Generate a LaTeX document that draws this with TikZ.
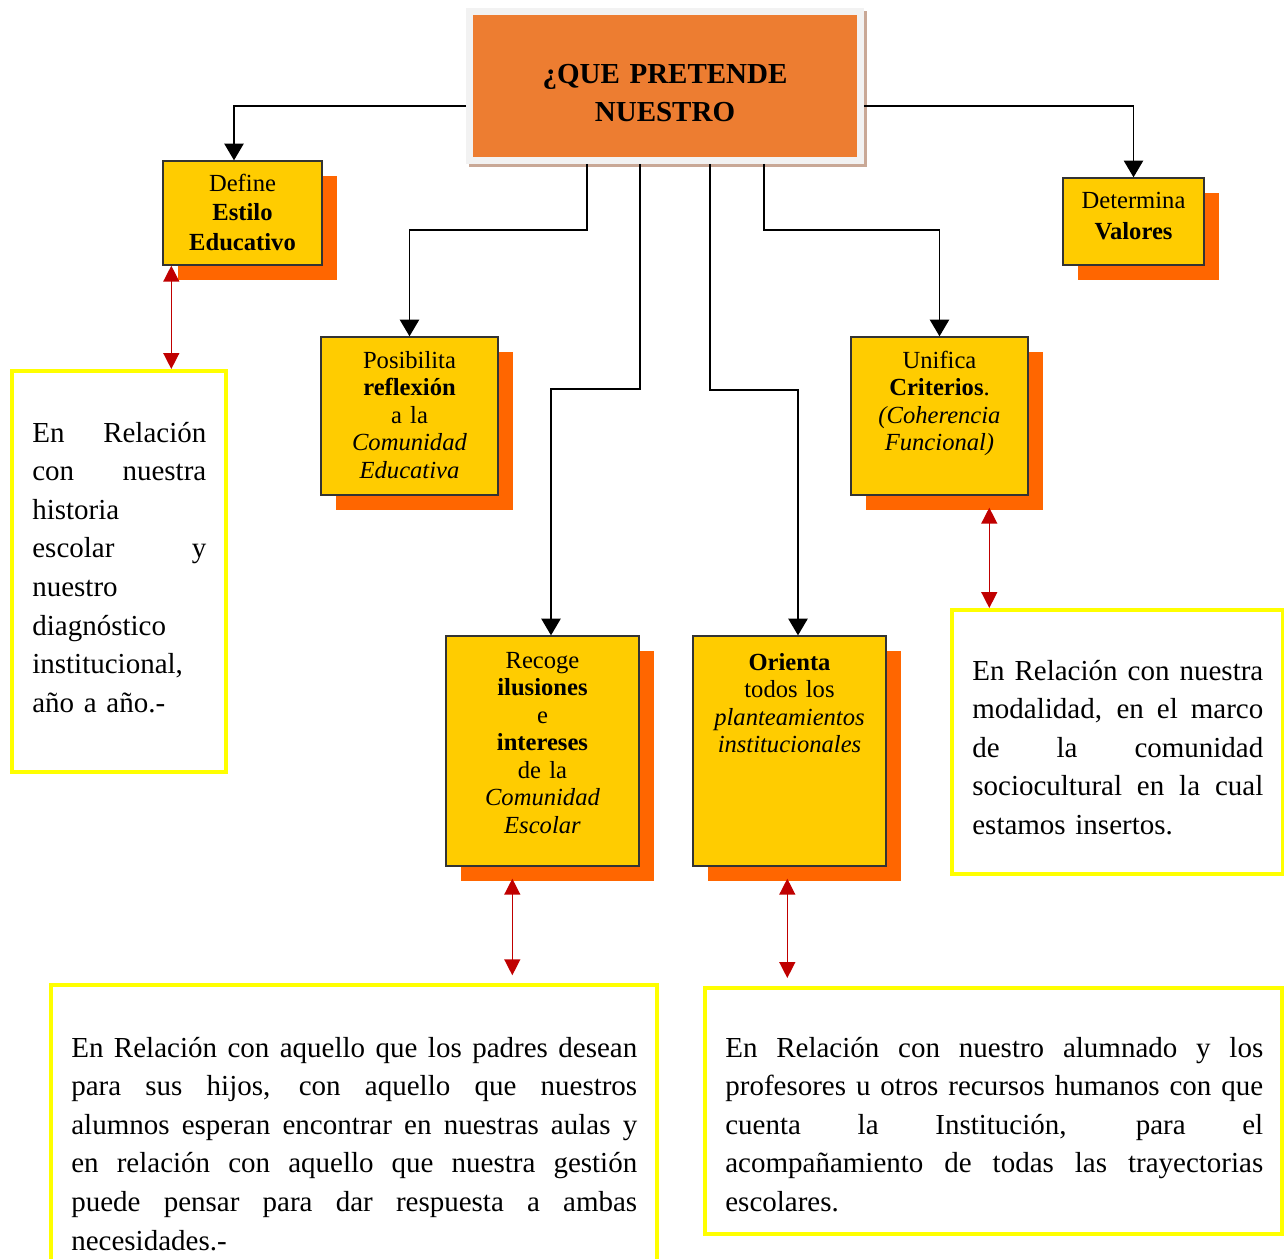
\documentclass[tikz,border=0pt]{standalone}
\usepackage{fontspec}
\setmainfont{Liberation Serif}
\usetikzlibrary{arrows.meta,shadows}
\definecolor{naranja}{RGB}{237,125,49}
\definecolor{marco}{RGB}{242,242,242}
\definecolor{marcosombra}{RGB}{201,168,150}
\definecolor{amarillo}{RGB}{255,204,0}
\definecolor{sombra}{RGB}{255,102,0}
\definecolor{bordenota}{RGB}{255,255,0}
\definecolor{rojo}{RGB}{192,0,0}
\newlength{\anchonota}
% linea justificada
\newcommand{\linea}[1]{\leavevmode\hbox to \anchonota{\spaceskip=0.25em plus 1fil\relax #1}}
\tikzset{
  titulo/.style={rectangle,fill=naranja,draw=marco,line width=0.14cm,
    drop shadow={shadow xshift=0.06cm,shadow yshift=-0.06cm,fill=marcosombra,
      draw=marcosombra,line width=0.14cm,opacity=1}},
  caja/.style={rectangle,draw=black!80,line width=0.8pt,fill=amarillo,
    drop shadow={shadow xshift=0.3cm,shadow yshift=-0.3cm,fill=sombra,opacity=1}},
  txt/.style={inner sep=0pt,align=center,anchor=base,font=\fontsize{14}{15.7}\selectfont},
  nota/.style={rectangle,draw=bordenota,line width=2pt,fill=white},
  ntxt/.style={inner sep=0pt,align=left,anchor=base west,text width=#1,
    execute at begin node={\setlength{\anchonota}{#1}},
    font=\fontsize{16.5}{22}\selectfont},
  arr/.style={-{Triangle[width=11pt,length=9.5pt]},line width=0.8pt,color=black},
  rel/.style={{Triangle[width=9pt,length=9pt]}-{Triangle[width=9pt,length=9pt]},
    line width=0.8pt,color=rojo}
}
\begin{document}
\begin{tikzpicture}[x=0.02cm,y=-0.02cm]
    \fill[white] (0,0) rectangle (1284,1258);
    \clip (0,0) rectangle (1284,1258);

    % Titulo
    \node[titulo,minimum width=7.82cm,minimum height=2.98cm] (main) at (665,86) {};
    \node[txt,text width=7cm,font=\fontsize{16.5}{22}\selectfont\bfseries] (main-t) at (665,83) {¿QUE PRETENDE\\NUESTRO};

    % Cajas
    \node[caja,minimum width=3.18cm,minimum height=2.08cm] (define) at (242.5,213) {};
    \node[caja,minimum width=2.82cm,minimum height=1.74cm] (determ) at (1133.5,221.5) {};
    \node[caja,minimum width=3.54cm,minimum height=3.16cm] (posib) at (409.5,416) {};
    \node[caja,minimum width=3.54cm,minimum height=3.16cm] (unif) at (939.5,416) {};
    \node[caja,minimum width=3.86cm,minimum height=4.6cm] (recoge) at (542.5,751) {};
    \node[caja,minimum width=3.86cm,minimum height=4.6cm] (orienta) at (789.5,751) {};

    \node[txt,text width=3.1cm,font=\fontsize{14}{17}\selectfont] (define-t) at (242.5,191) {Define\\\textbf{Estilo}\\\textbf{Educativo}};
    \node[txt,text width=2.7cm,font=\fontsize{14}{18}\selectfont] (determ-t) at (1133.5,208) {Determina\\\textbf{Valores}};
    \node[txt,text width=3.4cm] (posib-t) at (409.5,368) {Posibilita\\\textbf{reflexión}\\a la\\\textit{Comunidad}\\\textit{Educativa}};
    \node[txt,text width=3.4cm] (unif-t) at (939.5,368) {Unifica\\\textbf{Criterios}.\\\textit{(Coherencia}\\\textit{Funcional)}};
    \node[txt,text width=3.7cm] (recoge-t) at (542.5,668) {Recoge\\\textbf{ilusiones}\\e\\\textbf{intereses}\\de la\\\textit{Comunidad}\\\textit{Escolar}};
    \node[txt,text width=3.7cm] (orienta-t) at (789.5,670) {\textbf{Orienta}\\todos los\\\textit{planteamientos}\\\textit{institucionales}};

    % Notas
    \node[nota,minimum width=4.29cm,minimum height=8.03cm] (notaA) at (119,571.5) {};
    \node[nota,minimum width=6.63cm,minimum height=5.29cm] (notaB) at (1117.5,742) {};
    \node[nota,minimum width=12.13cm,minimum height=5.8cm] (notaC) at (354,1130) {};
    \node[nota,minimum width=11.55cm,minimum height=4.93cm] (notaD) at (993.5,1111) {};

    \node[ntxt=3.48cm] (notaA-t) at (32,442) {\linea{En Relación}\\\linea{con nuestra}\\historia\\\linea{escolar y}\\nuestro\\diagnóstico\\institucional,\\año a año.-};
    \node[ntxt=5.82cm] (notaB-t) at (972,680) {\linea{En Relación con nuestra}\\\linea{modalidad, en el marco}\\\linea{de la comunidad}\\\linea{sociocultural en la cual}\\estamos insertos.};
    \node[ntxt=11.32cm] (notaC-t) at (71,1057) {\linea{En Relación con aquello que los padres desean}\\\linea{para sus hijos, con aquello que nuestros}\\\linea{alumnos esperan encontrar en nuestras aulas y}\\\linea{en relación con aquello que nuestra gestión}\\\linea{puede pensar para dar respuesta a ambas}\\necesidades.-};
    \node[ntxt=10.76cm] (notaD-t) at (725,1057) {\linea{En Relación con nuestro alumnado y los}\\\linea{profesores u otros recursos humanos con que}\\\linea{cuenta la Institución, para el}\\\linea{acompañamiento de todas las trayectorias}\\escolares.};

    % Conectores
    \draw[arr] ([yshift=-0.4cm]main.west) -| ([xshift=-0.17cm]define.north);
    \draw[arr] ([yshift=-0.4cm]main.east) -| (determ.north);
    \draw[arr] ([xshift=-1.56cm]main.south) -- ++(0,66) -| (posib.north);
    \draw[arr] ([xshift=-0.5cm]main.south) -- ++(0,225) -| ([xshift=0.17cm]recoge.north);
    \draw[arr] ([xshift=0.9cm]main.south) -- ++(0,226) -| ([xshift=0.17cm]orienta.north);
    \draw[arr] ([xshift=1.98cm]main.south) -- ++(0,66) -| (unif.north);

    % Relaciones
    \draw[rel] ([xshift=0.18cm]define.south west) -- ([xshift=0.18cm]define.south west |- notaA.north);
    \draw[rel] ([xshift=2.78cm,yshift=-0.24cm]unif.south west) -- ([xshift=2.78cm]unif.south west |- notaB.north);
    \draw[rel] ([xshift=1.34cm,yshift=-0.24cm]recoge.south west) -- ([xshift=1.34cm,yshift=0.16cm]recoge.south west |- notaC.north);
    \draw[rel] ([xshift=1.9cm,yshift=-0.24cm]orienta.south west) -- ([xshift=1.9cm,yshift=0.16cm]orienta.south west |- notaD.north);
  \end{tikzpicture}
\end{document}
